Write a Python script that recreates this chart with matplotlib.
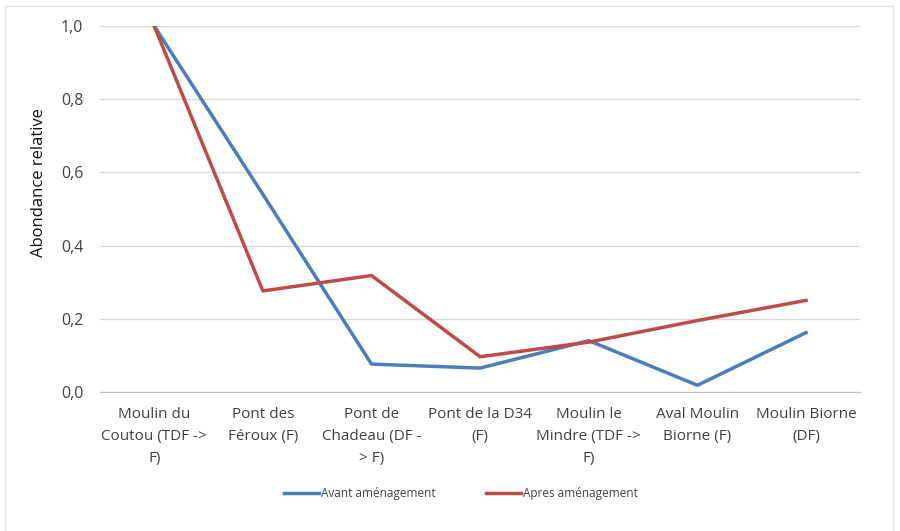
import numpy as np
import matplotlib.pyplot as plt
from matplotlib.patches import Rectangle

sites = ['Moulin du\nCoutou (TDF ->\nF)', 'Pont des\nFéroux (F)', 'Pont de\nChadeau (DF -\n> F)',
         'Pont de la D34\n(F)', 'Moulin le\nMindre (TDF ->\nF)', 'Aval Moulin\nBiorne (F)', 'Moulin Biorne\n(DF)']
avant = [1.0, 0.54, 0.076, 0.065, 0.14, 0.018, 0.162]
apres = [1.0, 0.276, 0.318, 0.096, 0.136, 0.195, 0.25]

plt.rcParams['font.family'] = ['Open Sans', 'DejaVu Sans']

fig = plt.figure(figsize=(9, 5.31), dpi=100)
ax = fig.add_axes([0.111, 0.262, 0.845, 0.689])

x = np.arange(len(sites))
ax.plot(x, avant, color='#4a7ebb', lw=2.5, label='Avant aménagement', solid_joinstyle='round')
ax.plot(x, apres, color='#be4b48', lw=2.5, label='Apres aménagement', solid_joinstyle='round')

ax.set_xlim(-0.5, len(sites) - 0.5)
ax.set_ylim(0, 1.0)
ax.set_yticks(np.arange(0, 1.01, 0.2))
ax.set_yticklabels(['0,0', '0,2', '0,4', '0,6', '0,8', '1,0'])
ax.set_xticks(x)
ax.set_xticklabels(sites, fontsize=11, color='#404040', linespacing=1.65)
ax.tick_params(axis='y', labelsize=11.5, labelcolor='#404040', length=0, pad=12)
ax.tick_params(axis='x', length=0, pad=11)
ax.grid(axis='y', color='#d9d9d9', lw=1)
ax.set_axisbelow(True)
for s in ['top', 'right', 'left']:
    ax.spines[s].set_visible(False)
ax.spines['bottom'].set_color('#bfbfbf')
ax.set_ylabel('Abondance relative', fontsize=12, color='#111111')
ax.yaxis.set_label_coords(-0.07, 0.571)

fig.legend(loc='center', bbox_to_anchor=(0.512, 0.07), ncol=2, frameon=False, fontsize=8.5,
           handlelength=3, handletextpad=0.1, columnspacing=4.3, labelcolor='#404040')

fig.patches.append(Rectangle((0.006, -0.01), 0.986, 0.998, transform=fig.transFigure,
                             fill=False, edgecolor='#e0e0e0', lw=1))

fig.savefig('out.png', dpi=100, facecolor='white')
